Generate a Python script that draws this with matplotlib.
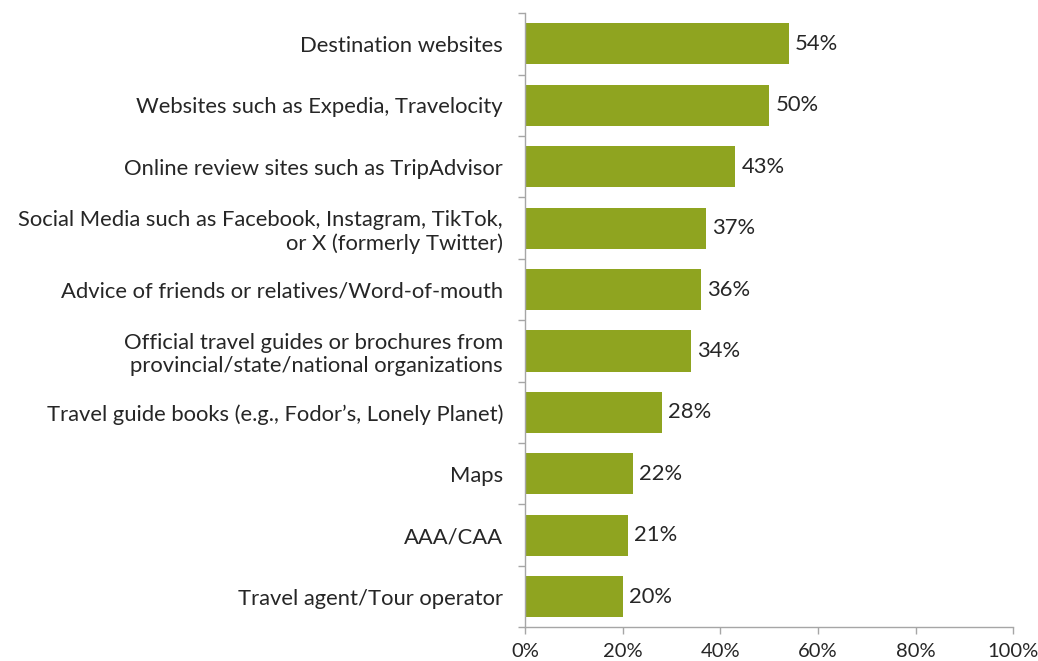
import numpy as np
import matplotlib.pyplot as plt
from matplotlib.ticker import PercentFormatter

plt.rcParams.update({"font.family": ["Lato", "DejaVu Sans"],
                     "font.size": 15.8})

categories = ["Destination websites",
              "Websites such as Expedia, Travelocity",
              "Online review sites such as TripAdvisor",
              "Social Media such as Facebook, Instagram, TikTok,\nor X (formerly Twitter)",
              "Advice of friends or relatives/Word-of-mouth",
              "Official travel guides or brochures from\nprovincial/state/national organizations",
              "Travel guide books (e.g., Fodor\u2019s, Lonely Planet)",
              "Maps",
              "AAA/CAA",
              "Travel agent/Tour operator"]
values = [54, 50, 43, 37, 36, 34, 28, 22, 21, 20]
xticks = [0, 20, 40, 60, 80, 100]

bar_color = "#8FA420"
axis_color = "#A6A6A6"
text_color = "#262626"

fig = plt.figure(figsize=(10.38, 6.61), dpi=100)
ax = fig.add_axes([0.506, 0.051, 0.470, 0.929])

y = np.arange(len(categories))
ax.barh(y, values, height=0.67, color=bar_color)
ax.set_ylim(len(categories) - 0.5, -0.5)
ax.set_xlim(0, 100)

for yi, v in zip(y, values):
    ax.text(v + 1.3, yi, f"{v}%", va="center", ha="left", color=text_color)

ax.set_yticks(y)
ax.set_yticklabels(categories, ha="right", color=text_color, linespacing=1.2)
ax.set_yticks(np.arange(-0.5, len(categories), 1), minor=True)
ax.tick_params(axis="y", which="major", length=0, pad=16)
ax.tick_params(axis="y", which="minor", length=5, color=axis_color, width=1)

ax.set_xticks(xticks)
ax.xaxis.set_major_formatter(PercentFormatter(decimals=0))
ax.tick_params(axis="x", length=5, color=axis_color, width=1, pad=6,
               labelcolor=text_color, labelsize=14.5)

for s in ["top", "right"]:
    ax.spines[s].set_visible(False)
for s in ["left", "bottom"]:
    ax.spines[s].set_color(axis_color)
    ax.spines[s].set_linewidth(1)

fig.savefig("out.png", dpi=100)
